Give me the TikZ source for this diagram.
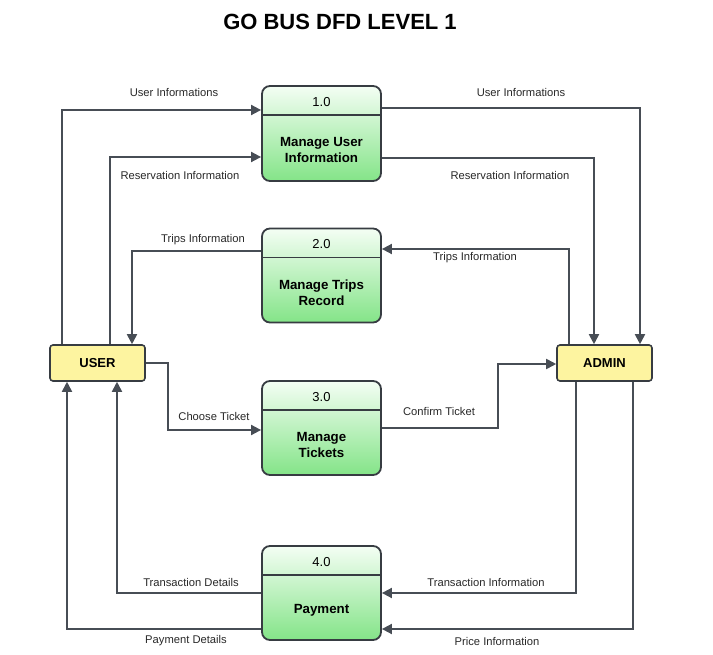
\documentclass[tikz,border=0pt]{standalone}
\usepackage{fontspec}
\setmainfont{Liberation Sans}
\usetikzlibrary{arrows.meta,calc}
\definecolor{linec}{RGB}{71,77,85}
\definecolor{borderc}{RGB}{55,60,66}
\definecolor{gtop}{RGB}{244,254,244}
\definecolor{gbot}{RGB}{132,228,136}
\definecolor{yfill}{RGB}{253,244,160}
\definecolor{labc}{RGB}{40,40,40}
\tikzset{
  procbox/.style={draw=borderc, line width=1.8pt, rounded corners=8pt,
    minimum width=119pt, top color=gtop, bottom color=gbot, inner sep=0pt},
  entbox/.style={draw=borderc, line width=1.6pt, rounded corners=3pt, fill=yfill,
    minimum width=95pt, minimum height=36pt, font=\fontsize{13}{15}\selectfont\bfseries},
  numtxt/.style={font=\fontsize{13}{15}\selectfont, text=black},
  nametxt/.style={font=\fontsize{13.3}{15.5}\selectfont\bfseries, align=center, text=black},
  flow/.style={draw=linec, line width=1.8pt, -{Triangle[length=10pt,width=10pt]}},
  lab/.style={font=\fontsize{11.2}{13}\selectfont, text=labc, inner sep=0pt},
}
\begin{document}
\begin{tikzpicture}[x=1pt,y=-1pt]
\path[use as bounding box] (0,0) rectangle (713,655);
\node[font=\fontsize{22}{25}\selectfont\bfseries] (title) at (340,22) {GO BUS DFD LEVEL 1};

% processes
\node[procbox, minimum height=95pt] (p1) at (321.5,133.5) {};
\node[procbox, minimum height=94pt] (p2) at (321.5,275.5) {};
\node[procbox, minimum height=94pt] (p3) at (321.5,428) {};
\node[procbox, minimum height=94pt] (p4) at (321.5,593) {};
\foreach \p/\n/\t in {p1/1.0/{Manage User\\Information}, p2/2.0/{Manage Trips\\Record}, p3/3.0/{Manage\\Tickets}, p4/4.0/{Payment}}{
  \draw[borderc, line width=1.6pt] ($(\p.north west)+(0,30)$) -- ($(\p.north east)+(0,30)$);
  \node[numtxt] (\p num) at ($(\p.north)+(0,16.5)$) {\n};
  \node[nametxt] (\p name) at ($(\p.north)+(0,65)$) {\t};
}

% entities
\node[entbox] (user) at (97.5,363) {USER};
\node[entbox] (admin) at (604.5,363) {ADMIN};

% flows
\draw[flow] (user.north -| 62,0) |- (p1.west |- 0,110);
\draw[flow] (user.north -| 110,0) |- (p1.west |- 0,157);
\draw[flow] (p1.east |- 0,108) -| (admin.north -| 640,0);
\draw[flow] (p1.east |- 0,158) -| (admin.north -| 594,0);
\draw[flow] (p2.west |- 0,251) -| (user.north -| 132,0);
\draw[flow] (admin.north -| 569,0) |- (p2.east |- 0,249);
\draw[flow] (user.east |- 0,363) -| (168,430) -- (p3.west |- 0,430);
\draw[flow] (p3.east |- 0,428) -| (498,364) -- (admin.west |- 0,364);
\draw[flow] (admin.south -| 576,0) |- (p4.east |- 0,593);
\draw[flow] (admin.south -| 633,0) |- (p4.east |- 0,629);
\draw[flow] (p4.west |- 0,593) -| (user.south -| 117,0);
\draw[flow] (p4.west |- 0,629) -| (user.south -| 67,0);

% labels
\node[lab] (l1) at (174,92) {User Informations};
\node[lab] (l2) at (180,175) {Reservation Information};
\node[lab] (l3) at (521,92) {User Informations};
\node[lab] (l4) at (510,175) {Reservation Information};
\node[lab] (l5) at (203,240) {Trips Information};
\node[lab] (l6) at (475,258) {Trips Information};
\node[lab] (l7) at (214,416) {Choose Ticket};
\node[lab] (l8) at (439,411) {Confirm Ticket};
\node[lab] (l9) at (191,582) {Transaction Details};
\node[lab] (l10) at (186,641) {Payment Details};
\node[lab] (l11) at (486,582) {Transaction Information};
\node[lab] (l12) at (497,641) {Price Information};
\end{tikzpicture}
\end{document}
